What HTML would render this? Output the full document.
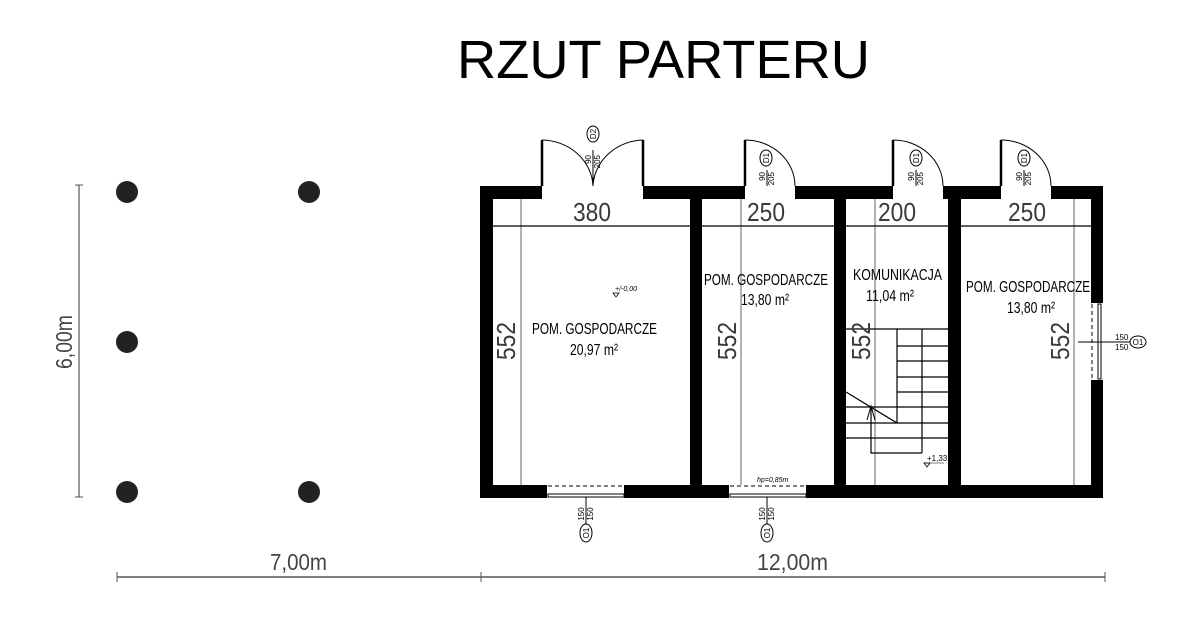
<!DOCTYPE html>
<html><head><meta charset="utf-8"><style>
html,body{margin:0;padding:0;background:#fff;}
svg{display:block;}
text{font-family:"Liberation Sans",sans-serif;}
</style></head><body>
<svg width="1180" height="639" viewBox="0 0 1180 639" xmlns="http://www.w3.org/2000/svg">
<rect width="1180" height="639" fill="#fff"/>
<text x="457" y="78" font-size="54" textLength="413" lengthAdjust="spacingAndGlyphs" fill="#000">RZUT PARTERU</text>

<g fill="#222">
<circle cx="127" cy="192" r="11"/><circle cx="309" cy="192" r="11"/>
<circle cx="127" cy="342" r="11"/>
<circle cx="127" cy="492" r="11"/><circle cx="309" cy="492" r="11"/>
</g>
<line x1="79" y1="185" x2="79" y2="497" stroke="#555" stroke-width="1.2"/>
<line x1="75" y1="185" x2="83" y2="185" stroke="#555"/><line x1="75" y1="497" x2="83" y2="497" stroke="#555"/>
<text x="0" y="0" font-size="23" fill="#444" textLength="54" lengthAdjust="spacingAndGlyphs" transform="translate(72,369) rotate(-90)">6,00m</text>

<line x1="117" y1="577" x2="1105" y2="577" stroke="#555" stroke-width="1.4"/>
<line x1="117" y1="572" x2="117" y2="582" stroke="#555"/><line x1="481" y1="572" x2="481" y2="582" stroke="#555"/><line x1="1105" y1="572" x2="1105" y2="582" stroke="#555"/>
<text x="270" y="570" font-size="23" fill="#444" textLength="57" lengthAdjust="spacingAndGlyphs">7,00m</text>
<text x="757" y="570" font-size="23" fill="#444" textLength="71" lengthAdjust="spacingAndGlyphs">12,00m</text>

<g stroke="#999" stroke-width="1.5">
<line x1="521" y1="199" x2="521" y2="485"/>
<line x1="741" y1="199" x2="741" y2="485"/>
<line x1="875" y1="199" x2="875" y2="485"/>
<line x1="1074" y1="199" x2="1074" y2="485"/>
</g>
<line x1="493" y1="226" x2="1091" y2="226" stroke="#000" stroke-width="1.2"/>

<g fill="#000">
<rect x="480" y="186" width="62" height="13"/>
<rect x="643" y="186" width="102" height="13"/>
<rect x="795" y="186" width="98" height="13"/>
<rect x="943" y="186" width="58" height="13"/>
<rect x="1051" y="186" width="52" height="13"/>
<rect x="480" y="186" width="13" height="312"/>
<rect x="1091" y="186" width="12" height="117"/>
<rect x="1091" y="380" width="12" height="118"/>
<rect x="690" y="186" width="12" height="312"/>
<rect x="834" y="186" width="12" height="312"/>
<rect x="948" y="186" width="13" height="312"/>
<rect x="480" y="485" width="67" height="13"/>
<rect x="624" y="485" width="105" height="13"/>
<rect x="806" y="485" width="297" height="13"/>
</g>
<g fill="none" stroke="#000" stroke-width="1">
<rect x="548" y="494" width="76" height="3"/>
<rect x="730" y="494" width="76" height="3"/>
<rect x="1098" y="304" width="3" height="75"/>
</g>
<g stroke="#000" stroke-dasharray="4,3" stroke-width="1">
<line x1="548" y1="486" x2="624" y2="486"/><line x1="730" y1="486" x2="806" y2="486"/>
<line x1="1092" y1="304" x2="1092" y2="380"/>
</g>
<line x1="586" y1="497" x2="586" y2="525" stroke="#000"/>
<line x1="767" y1="497" x2="767" y2="525" stroke="#000"/>
<ellipse cx="586" cy="533" rx="6" ry="9" fill="#fff" stroke="#000"/>
<ellipse cx="767" cy="533" rx="6" ry="9" fill="#fff" stroke="#000"/>
<g font-size="8" fill="#000">
<text transform="translate(589,533) rotate(-90)" text-anchor="middle">O1</text>
<text transform="translate(770,533) rotate(-90)" text-anchor="middle">O1</text>
<text transform="translate(584,514) rotate(-90)" text-anchor="middle">150</text>
<text transform="translate(593,514) rotate(-90)" text-anchor="middle">150</text>
<text transform="translate(765,514) rotate(-90)" text-anchor="middle">150</text>
<text transform="translate(774,514) rotate(-90)" text-anchor="middle">150</text>
<text x="1115" y="340">150</text><text x="1115" y="350">150</text>
<text x="757" y="482" font-size="7" font-style="italic">hp=0,85m</text>
</g>
<line x1="1078" y1="342" x2="1130" y2="342" stroke="#000"/>
<ellipse cx="1138" cy="342" rx="8" ry="6" fill="#fff" stroke="#000"/>
<text x="1138" y="345" font-size="8" text-anchor="middle">O1</text>

<g fill="none" stroke="#000" stroke-width="1">
<path d="M542 140 A52 48 0 0 1 593 186"/>
<path d="M643 140 A52 48 0 0 0 593 186"/>
<path d="M745 140 A50 46 0 0 1 795 186"/>
<path d="M893 140 A50 46 0 0 1 943 186"/>
<path d="M1001 140 A50 46 0 0 1 1051 186"/>
<line x1="593" y1="150" x2="593" y2="186"/>
<line x1="767" y1="170" x2="767" y2="186"/>
<line x1="916" y1="170" x2="916" y2="186"/>
<line x1="1024" y1="170" x2="1024" y2="186"/>
<ellipse cx="593" cy="134" rx="6" ry="8"/>
<ellipse cx="766" cy="158" rx="6" ry="8"/>
<ellipse cx="916" cy="158" rx="6" ry="8"/>
<ellipse cx="1024" cy="158" rx="6" ry="8"/>
</g>
<g stroke="#000" stroke-width="2.5">
<line x1="542" y1="140" x2="542" y2="186"/><line x1="643" y1="140" x2="643" y2="186"/>
<line x1="745" y1="140" x2="745" y2="186"/><line x1="893" y1="140" x2="893" y2="186"/>
<line x1="1001" y1="140" x2="1001" y2="186"/>
</g>
<g font-size="8" fill="#000">
<text transform="translate(596,134) rotate(-90)" text-anchor="middle">D2</text>
<text transform="translate(769,158) rotate(-90)" text-anchor="middle">D1</text>
<text transform="translate(919,158) rotate(-90)" text-anchor="middle">D1</text>
<text transform="translate(1027,158) rotate(-90)" text-anchor="middle">D1</text>
<text transform="translate(591,155) rotate(-90)" text-anchor="end">90</text>
<text transform="translate(600,155) rotate(-90)" text-anchor="end">205</text>
<text transform="translate(765,172) rotate(-90)" text-anchor="end">90</text>
<text transform="translate(774,172) rotate(-90)" text-anchor="end">205</text>
<text transform="translate(914,172) rotate(-90)" text-anchor="end">90</text>
<text transform="translate(923,172) rotate(-90)" text-anchor="end">205</text>
<text transform="translate(1022,172) rotate(-90)" text-anchor="end">90</text>
<text transform="translate(1031,172) rotate(-90)" text-anchor="end">205</text>
</g>

<g stroke="#000" stroke-width="1.2" fill="none">
<line x1="846" y1="329" x2="948" y2="329"/>
<line x1="897" y1="346" x2="948" y2="346"/>
<line x1="897" y1="361" x2="948" y2="361"/>
<line x1="897" y1="377" x2="948" y2="377"/>
<line x1="897" y1="392" x2="948" y2="392"/>
<line x1="846" y1="407" x2="948" y2="407"/>
<line x1="846" y1="423" x2="948" y2="423"/>
<line x1="846" y1="438" x2="948" y2="438"/>
<line x1="897" y1="329" x2="897" y2="423"/>
<line x1="922" y1="329" x2="922" y2="453"/>
<polyline points="871,407 871,453 922,453"/>
<line x1="846" y1="392" x2="897" y2="423"/>
<polyline points="867,420 871,406 875,420" stroke-width="1"/>
</g>
<text x="927" y="461" font-size="8">+1,33</text>
<path d="M924 463 l6 0 l-3 4z" fill="none" stroke="#000" stroke-width="0.8"/>
<line x1="924" y1="463" x2="944" y2="463" stroke="#000" stroke-width="0.6"/>
<text x="615" y="291" font-size="7" font-style="italic">+/-0,00</text>
<path d="M613 293 l6 0 l-3 4z" fill="none" stroke="#000" stroke-width="0.8"/>

<g font-size="26" fill="#3a3a3a">
<text x="573" y="221" textLength="38" lengthAdjust="spacingAndGlyphs">380</text>
<text x="747" y="221" textLength="38" lengthAdjust="spacingAndGlyphs">250</text>
<text x="878" y="221" textLength="38" lengthAdjust="spacingAndGlyphs">200</text>
<text x="1008" y="221" textLength="38" lengthAdjust="spacingAndGlyphs">250</text>
<text transform="translate(515,360) rotate(-90)" textLength="38" lengthAdjust="spacingAndGlyphs">552</text>
<text transform="translate(736,360) rotate(-90)" textLength="38" lengthAdjust="spacingAndGlyphs">552</text>
<text transform="translate(870,360) rotate(-90)" textLength="38" lengthAdjust="spacingAndGlyphs">552</text>
<text transform="translate(1069,360) rotate(-90)" textLength="38" lengthAdjust="spacingAndGlyphs">552</text>
</g>
<g font-size="16" fill="#000">
<text x="532" y="334" textLength="125" lengthAdjust="spacingAndGlyphs">POM. GOSPODARCZE</text>
<text x="570" y="355" textLength="48" lengthAdjust="spacingAndGlyphs">20,97 m²</text>
<text x="704" y="285" textLength="124" lengthAdjust="spacingAndGlyphs">POM. GOSPODARCZE</text>
<text x="741" y="305" textLength="48" lengthAdjust="spacingAndGlyphs">13,80 m²</text>
<text x="853" y="280" textLength="89" lengthAdjust="spacingAndGlyphs">KOMUNIKACJA</text>
<text x="866" y="301" textLength="48" lengthAdjust="spacingAndGlyphs">11,04 m²</text>
<text x="966" y="292" textLength="124" lengthAdjust="spacingAndGlyphs">POM. GOSPODARCZE</text>
<text x="1007" y="313" textLength="48" lengthAdjust="spacingAndGlyphs">13,80 m²</text>
</g>
</svg>
</body></html>
